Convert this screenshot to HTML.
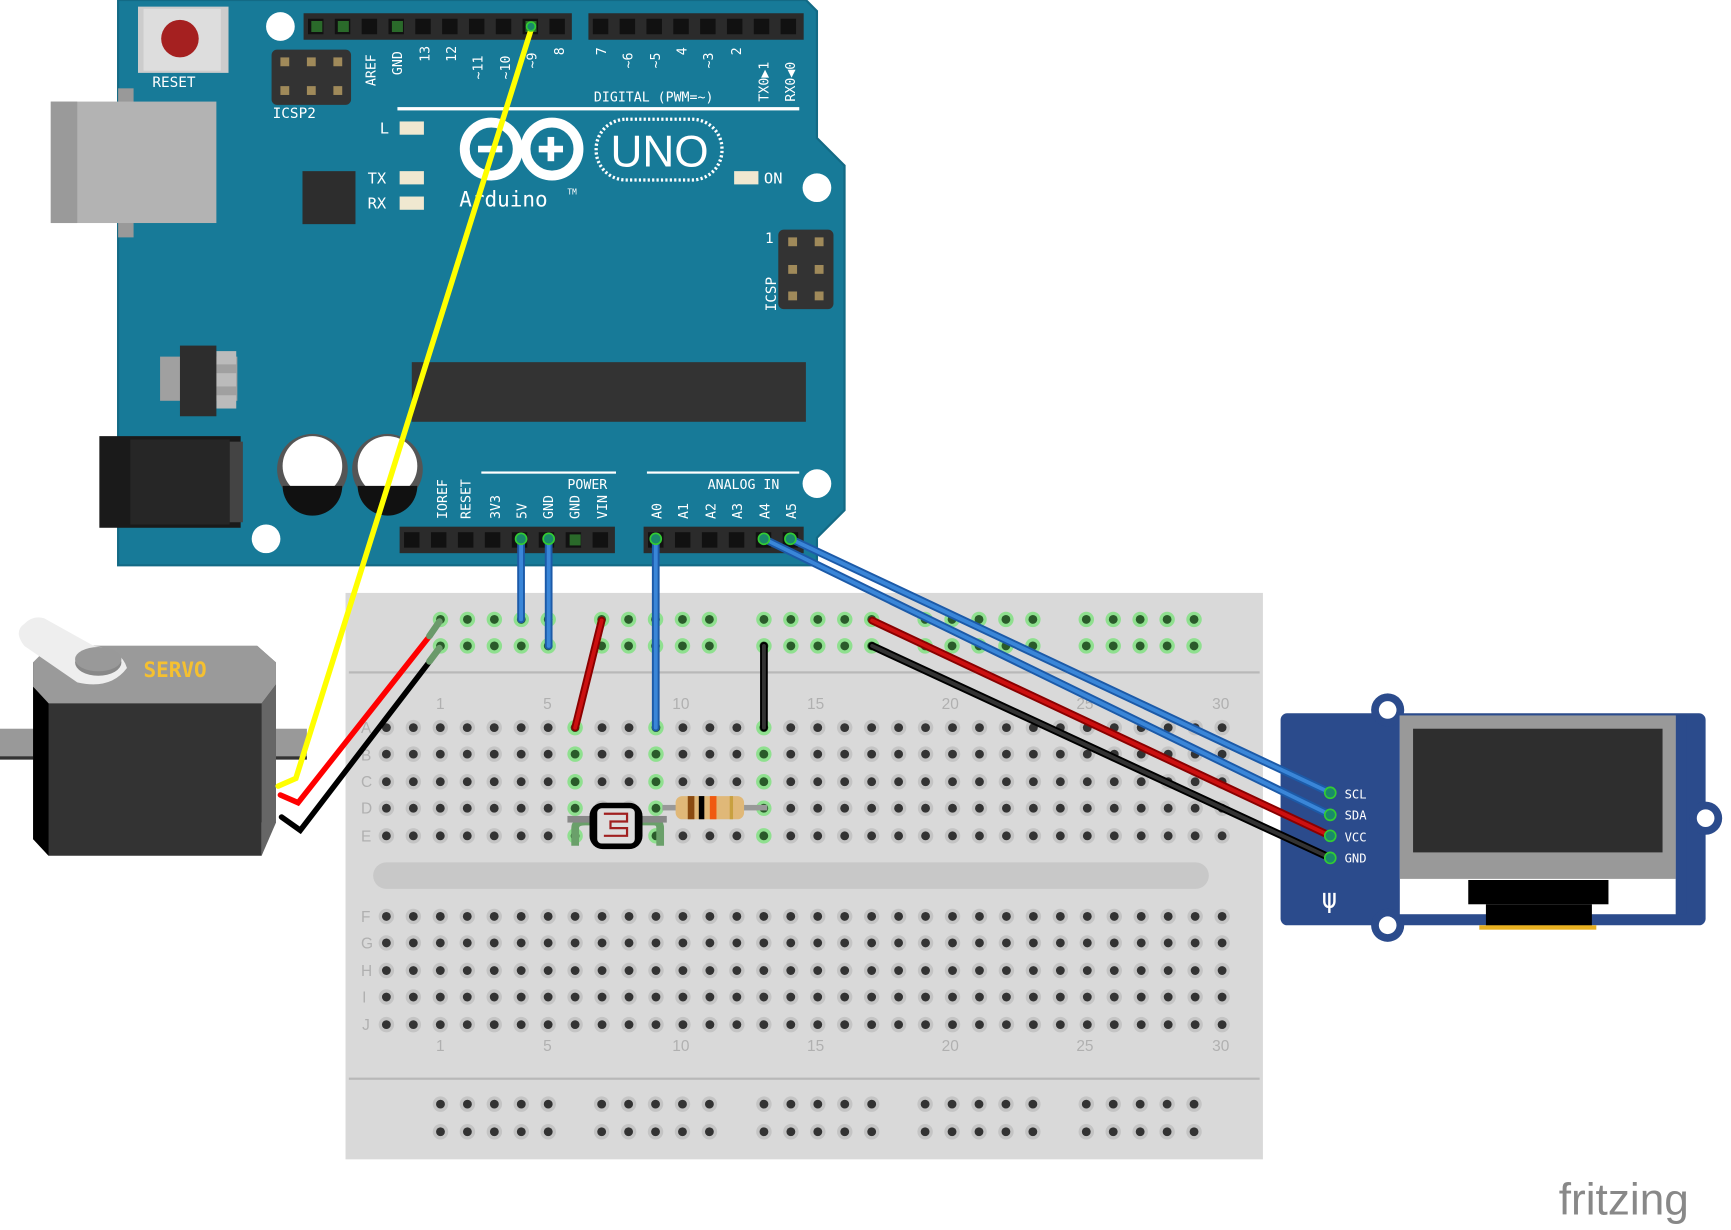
<!DOCTYPE html>
<html><head><meta charset="utf-8"><style>
html,body{margin:0;padding:0;background:#fff;width:1731px;height:1230px;overflow:hidden}
svg{display:block}
</style></head><body>
<svg id="s" width="1731" height="1230" viewBox="0 0 1568 1114" preserveAspectRatio="none" xmlns="http://www.w3.org/2000/svg" font-family="DejaVu Sans Mono, Liberation Mono, monospace">
<path d="M107,0 H730 L740,10 V125 L765,150 V462 L740,487 V512 H107 Z" fill="#177a98"/>
<path d="M107,0 H730 L740,10 V125 L765,150 V462 L740,487 V512 H107 Z" fill="none" stroke="#136a85" stroke-width="2"/>
<rect x="107" y="80" width="14" height="135" fill="#999"/>
<rect x="46" y="92" width="150" height="110" fill="#b3b3b3"/>
<rect x="46" y="92" width="24" height="110" fill="#9a9a9a"/>
<rect x="125" y="6" width="82" height="60" fill="#ccc"/><rect x="130" y="8" width="70" height="56" fill="#ddd"/>
<circle cx="163" cy="35" r="17" fill="#a52020"/>
<text x="138" y="79" font-size="13" fill="#fff">RESET</text>
<circle cx="254" cy="24" r="13" fill="#fff"/>
<circle cx="740" cy="170" r="13" fill="#fff"/>
<circle cx="740" cy="438" r="13" fill="#fff"/>
<circle cx="241" cy="488" r="13" fill="#fff"/>
<rect x="246" y="45" width="72" height="50" rx="5" fill="#333"/>
<g fill="#a08a5a"><rect x="254" y="52" width="8" height="8"/><rect x="278" y="52" width="8" height="8"/><rect x="302" y="52" width="8" height="8"/><rect x="254" y="78" width="8" height="8"/><rect x="278" y="78" width="8" height="8"/><rect x="302" y="78" width="8" height="8"/></g>
<text x="247" y="107" font-size="13" fill="#fff">ICSP2</text>
<rect x="275" y="12" width="243" height="24" fill="#2b2b2b"/>
<rect x="533" y="12" width="195" height="24" fill="#2b2b2b"/>
<g id="th"></g>
<g font-size="12" fill="#fff">
<text transform="translate(340,78) rotate(-90)">AREF</text>
<text transform="translate(364,68) rotate(-90)">GND</text>
<text transform="translate(389,56) rotate(-90)">13</text>
<text transform="translate(413,56) rotate(-90)">12</text>
<text transform="translate(437,72) rotate(-90)">~11</text>
<text transform="translate(462,72) rotate(-90)">~10</text>
<text transform="translate(486,62) rotate(-90)">~9</text>
<text transform="translate(511,50) rotate(-90)">8</text>
<text transform="translate(549,50) rotate(-90)">7</text>
<text transform="translate(573,62) rotate(-90)">~6</text>
<text transform="translate(598,62) rotate(-90)">~5</text>
<text transform="translate(622,50) rotate(-90)">4</text>
<text transform="translate(646,62) rotate(-90)">~3</text>
<text transform="translate(671,50) rotate(-90)">2</text>
<text transform="translate(696,92) rotate(-90)">TX0▶1</text>
<text transform="translate(720,92) rotate(-90)">RX0◀0</text>
<text x="538" y="92">DIGITAL (PWM=~)</text>
</g>
<rect x="360" y="97" width="364" height="3" fill="#fff"/>
<g font-size="14" fill="#fff"><text x="344" y="121">L</text><text x="333" y="166">TX</text><text x="333" y="189">RX</text><text x="692" y="166">ON</text></g>
<g fill="#f0e8d0"><rect x="362" y="110" width="22" height="12"/><rect x="362" y="155" width="22" height="12"/><rect x="362" y="178" width="22" height="12"/><rect x="665" y="155" width="22" height="12"/></g>
<g fill="none" stroke="#fff" stroke-width="9"><circle cx="445" cy="135" r="24"/><circle cx="500" cy="135" r="24"/></g>
<rect x="433" y="132" width="22" height="6" fill="#fff"/><rect x="488" y="132" width="22" height="6" fill="#fff"/><rect x="496" y="124" width="6" height="22" fill="#fff"/>
<rect x="540" y="108" width="114" height="55" rx="27" fill="none" stroke="#fff" stroke-width="3" stroke-dasharray="2 2"/>
<text x="553" y="151" font-size="40" fill="#fff" font-family="Liberation Sans, sans-serif">UNO</text>
<text x="416" y="187" font-size="19" fill="#fff">Arduino</text><text x="514" y="176" font-size="7" fill="#fff">TM</text>
<rect x="274" y="155" width="48" height="48" fill="#2d2d2d"/>
<rect x="705" y="208" width="50" height="72" rx="5" fill="#333"/>
<g fill="#a08a5a"><rect x="714" y="215" width="8" height="8"/><rect x="738" y="215" width="8" height="8"/><rect x="714" y="240" width="8" height="8"/><rect x="738" y="240" width="8" height="8"/><rect x="714" y="264" width="8" height="8"/><rect x="738" y="264" width="8" height="8"/></g>
<text x="693" y="220" font-size="13" fill="#fff">1</text>
<text transform="translate(703,282) rotate(-90)" font-size="13" fill="#fff">ICSP</text>
<rect x="145" y="323" width="70" height="40" fill="#a0a0a0"/><rect x="196" y="318" width="18" height="12" fill="#bbb"/><rect x="196" y="338" width="18" height="12" fill="#bbb"/><rect x="196" y="358" width="18" height="12" fill="#bbb"/>
<rect x="163" y="313" width="33" height="64" fill="#2d2d2d"/>
<rect x="373" y="328" width="357" height="54" fill="#333"/>
<rect x="90" y="395" width="128" height="83" fill="#1a1a1a"/><rect x="208" y="400" width="12" height="73" fill="#444"/><rect x="118" y="398" width="90" height="77" fill="#262626"/>
<circle cx="283" cy="425" r="32" fill="#555"/><circle cx="283" cy="422" r="27" fill="#fff"/><path d="M256,440 H310 A27,27 0 0 1 256,440 Z" fill="#111"/>
<circle cx="351" cy="425" r="32" fill="#555"/><circle cx="351" cy="422" r="27" fill="#fff"/><path d="M324,440 H378 A27,27 0 0 1 324,440 Z" fill="#111"/>
<rect x="436" y="427" width="122" height="2" fill="#fff"/><rect x="586" y="427" width="138" height="2" fill="#fff"/>
<g font-size="12" fill="#fff">
<text x="514" y="443">POWER</text><text x="641" y="443">ANALOG IN</text>
<text transform="translate(405,470) rotate(-90)">IOREF</text>
<text transform="translate(426,470) rotate(-90)">RESET</text>
<text transform="translate(453,470) rotate(-90)">3V3</text>
<text transform="translate(477,470) rotate(-90)">5V</text>
<text transform="translate(501,470) rotate(-90)">GND</text>
<text transform="translate(525,470) rotate(-90)">GND</text>
<text transform="translate(550,470) rotate(-90)">VIN</text>
<text transform="translate(599,470) rotate(-90)">A0</text>
<text transform="translate(623,470) rotate(-90)">A1</text>
<text transform="translate(648,470) rotate(-90)">A2</text>
<text transform="translate(672,470) rotate(-90)">A3</text>
<text transform="translate(697,470) rotate(-90)">A4</text>
<text transform="translate(721,470) rotate(-90)">A5</text>
</g>
<rect x="362" y="477" width="195" height="24" fill="#2b2b2b"/>
<rect x="583" y="477" width="145" height="24" fill="#2b2b2b"/>
<g id="bh"></g>
<rect x="313" y="537" width="831" height="513" fill="#d9d9d9"/>
<rect x="316" y="608" width="825" height="2" fill="#b8b8b8"/>
<rect x="316" y="976" width="825" height="2" fill="#b8b8b8"/>
<rect x="338" y="781" width="757" height="24" rx="12" fill="#c8c8c8"/>
<g font-size="14" fill="#b0b0b0" font-family="Liberation Sans, sans-serif">
<text x="395" y="642">1</text><text x="492" y="642">5</text><text x="609" y="642">10</text><text x="731" y="642">15</text><text x="853" y="642">20</text><text x="975" y="642">25</text><text x="1098" y="642">30</text>
<text x="395" y="952">1</text><text x="492" y="952">5</text><text x="609" y="952">10</text><text x="731" y="952">15</text><text x="853" y="952">20</text><text x="975" y="952">25</text><text x="1098" y="952">30</text>
<text x="327" y="664">A</text><text x="327" y="689">B</text><text x="327" y="713">C</text><text x="327" y="737">D</text><text x="327" y="762">E</text>
<text x="327" y="835">F</text><text x="327" y="859">G</text><text x="327" y="884">H</text><text x="328" y="908">I</text><text x="328" y="933">J</text>
</g>
<g id="holes"></g>
<rect x="600" y="729" width="95" height="5" fill="#999"/>
<rect x="612" y="721" width="62" height="21" rx="6" fill="#e0b878"/>
<rect x="623" y="721" width="6" height="21" fill="#8a4a10"/><rect x="633" y="721" width="5" height="21" fill="#000"/><rect x="643" y="721" width="6" height="21" fill="#f05a10"/><rect x="661" y="721" width="3" height="21" fill="#c8a040"/>
<path d="M521,766 V750 Q521,744 530,744 H592 Q598,744 598,750 V766" fill="none" stroke="#6aa06a" stroke-width="7"/>
<rect x="514" y="739" width="90" height="6" fill="#888"/>
<rect x="534" y="727" width="48" height="42" rx="12" fill="#000"/>
<rect x="541" y="732" width="34" height="32" rx="4" fill="#ddd"/>
<path d="M547,737 H568 V744 H553 V750 H568 V757 H547" fill="none" stroke="#a02020" stroke-width="2"/>
<rect x="0" y="660" width="278" height="27" fill="#999"/><rect x="0" y="685" width="278" height="3" fill="#333"/>
<path d="M30,600 L45,585 H233 L250,600 V732 L237,745 V775 H44 L30,760 Z" fill="#333"/>
<path d="M30,600 L45,585 H233 L250,600 V620 L237,637 H44 L30,622 Z" fill="#9a9a9a"/>
<path d="M30,622 L44,637 V775 L30,760 Z" fill="#000"/>
<path d="M237,637 L250,620 V745 L237,775 Z" fill="#666"/>
<path d="M22,565 Q12,572 22,585 L70,618 Q100,625 115,605 Q110,588 85,585 L40,560 Q30,557 22,565 Z" fill="#eee"/>
<ellipse cx="89" cy="600" rx="21" ry="12" fill="#888"/><ellipse cx="89" cy="597" rx="21" ry="11" fill="#999"/>
<text x="130" y="613" font-size="19" font-weight="bold" fill="#f5c030">SERVO</text>
<rect x="1160" y="646" width="385" height="192" rx="6" fill="#2b4b8c"/>
<circle cx="1257" cy="643" r="15" fill="#2b4b8c"/><circle cx="1257" cy="643" r="8" fill="#fff"/>
<circle cx="1257" cy="838" r="15" fill="#2b4b8c"/><circle cx="1257" cy="838" r="8" fill="#fff"/>
<circle cx="1545" cy="741" r="15" fill="#2b4b8c"/><circle cx="1545" cy="741" r="8" fill="#fff"/>
<rect x="1268" y="648" width="250" height="180" fill="#fff"/>
<rect x="1268" y="648" width="250" height="148" fill="#999"/>
<rect x="1280" y="660" width="226" height="112" fill="#2e2e2e"/>
<rect x="1518" y="648" width="10" height="180" fill="#2b4b8c"/>
<rect x="1330" y="797" width="127" height="22" fill="#000"/><rect x="1346" y="819" width="96" height="21" fill="#000"/><rect x="1340" y="838" width="106" height="4" fill="#e8b020"/>
<g font-size="11" fill="#fff"><text x="1218" y="723">SCL</text><text x="1218" y="742">SDA</text><text x="1218" y="762">VCC</text><text x="1218" y="781">GND</text></g>
<text x="1197" y="822" font-size="24" fill="#fff">ψ</text>
<g stroke-linecap="round" fill="none">
<polyline points="481,27 268,705 252,712" stroke="#ffff00" stroke-width="5"/>
<polyline points="390,575 270,727 254,720" stroke="#ff0000" stroke-width="5"/>
<polyline points="390,598 272,752 255,740" stroke="#000" stroke-width="5"/>
<line x1="389" y1="576" x2="398" y2="563" stroke="#6a9a6a" stroke-width="6"/>
<line x1="389" y1="599" x2="398" y2="587" stroke="#6a9a6a" stroke-width="6"/>
<g stroke-width="7">
<line x1="472" y1="488" x2="472" y2="561" stroke="#1c5aa8"/><line x1="497" y1="488" x2="497" y2="585" stroke="#1c5aa8"/><line x1="594" y1="488" x2="594" y2="659" stroke="#1c5aa8"/>
<line x1="692" y1="488" x2="1205" y2="738" stroke="#1c5aa8"/><line x1="716" y1="488" x2="1205" y2="718" stroke="#1c5aa8"/>
<line x1="790" y1="562" x2="1205" y2="757" stroke="#8a0000"/><line x1="790" y1="585" x2="1205" y2="777" stroke="#000"/>
<line x1="545" y1="562" x2="521" y2="659" stroke="#8a0000"/><line x1="692" y1="585" x2="692" y2="659" stroke="#000"/>
</g>
<g stroke-width="3.5">
<line x1="472" y1="488" x2="472" y2="561" stroke="#3a86d8"/><line x1="497" y1="488" x2="497" y2="585" stroke="#3a86d8"/><line x1="594" y1="488" x2="594" y2="659" stroke="#3a86d8"/>
<line x1="692" y1="488" x2="1205" y2="738" stroke="#3a86d8"/><line x1="716" y1="488" x2="1205" y2="718" stroke="#3a86d8"/>
<line x1="790" y1="562" x2="1205" y2="757" stroke="#cc1010"/><line x1="790" y1="585" x2="1205" y2="777" stroke="#333"/>
<line x1="545" y1="562" x2="521" y2="659" stroke="#cc1010"/><line x1="692" y1="585" x2="692" y2="659" stroke="#333"/>
</g>
</g>
<g fill="#1a8a6a" stroke="#3c3" stroke-width="1.5">
<circle cx="481" cy="24" r="4"/><circle cx="472" cy="488" r="5"/><circle cx="497" cy="488" r="5"/><circle cx="594" cy="488" r="5"/><circle cx="692" cy="488" r="5"/><circle cx="716" cy="488" r="5"/>
<circle cx="1205" cy="718" r="5"/><circle cx="1205" cy="738" r="5"/><circle cx="1205" cy="757" r="5"/><circle cx="1205" cy="777" r="5"/>
</g>
<text x="1412" y="1100" font-size="40" fill="#888" font-family="Liberation Sans, sans-serif">fritzing</text>
</svg>
<script>
var NS="http://www.w3.org/2000/svg";
function el(p,t,a){var e=document.createElementNS(NS,t);for(var k in a)e.setAttribute(k,a[k]);p.appendChild(e);return e;}
var th=document.getElementById("th");
[[279,10],[537,8]].forEach(function(g){for(var i=0;i<g[1];i++){var x=g[0]+i*24.3;el(th,"rect",{x:x,y:17,width:14,height:14,fill:"#111"});}});
[287,311,360,481].forEach(function(x){el(th,"rect",{x:x-5,y:19,width:10,height:10,fill:"#2a6a2a"});});
var bh=document.getElementById("bh");
[[366,8],[587,6]].forEach(function(g){for(var i=0;i<g[1];i++){var x=g[0]+i*24.4;el(bh,"rect",{x:x,y:482,width:14,height:14,fill:"#111"});}});
el(bh,"rect",{x:516,y:484,width:10,height:10,fill:"#2a6a2a"});
var h=document.getElementById("holes");
function hole(x,y,g){el(h,"circle",{cx:x,cy:y,r:7,fill:g?"#8fe08f":"#c4c4c4"});el(h,"circle",{cx:x,cy:y,r:4,fill:g?"#2a5a2a":"#333"});}
var rows=[659,683,708,732,757,830,854,879,903,928];
for(var i=0;i<32;i++){var x=350+i*24.42;rows.forEach(function(y,ri){var g=ri<5&&(Math.abs(x-521)<4||Math.abs(x-594)<4||Math.abs(x-692)<4);hole(x,y,g);});}
var gs=[399,545,692,838,984];
gs.forEach(function(x0,gi){for(var i=0;i<5;i++){var x=x0+i*24.4;[561,585].forEach(function(y){hole(x,y,true);});[1000,1025].forEach(function(y){hole(x,y,false);});}});
</script>
</body></html>
